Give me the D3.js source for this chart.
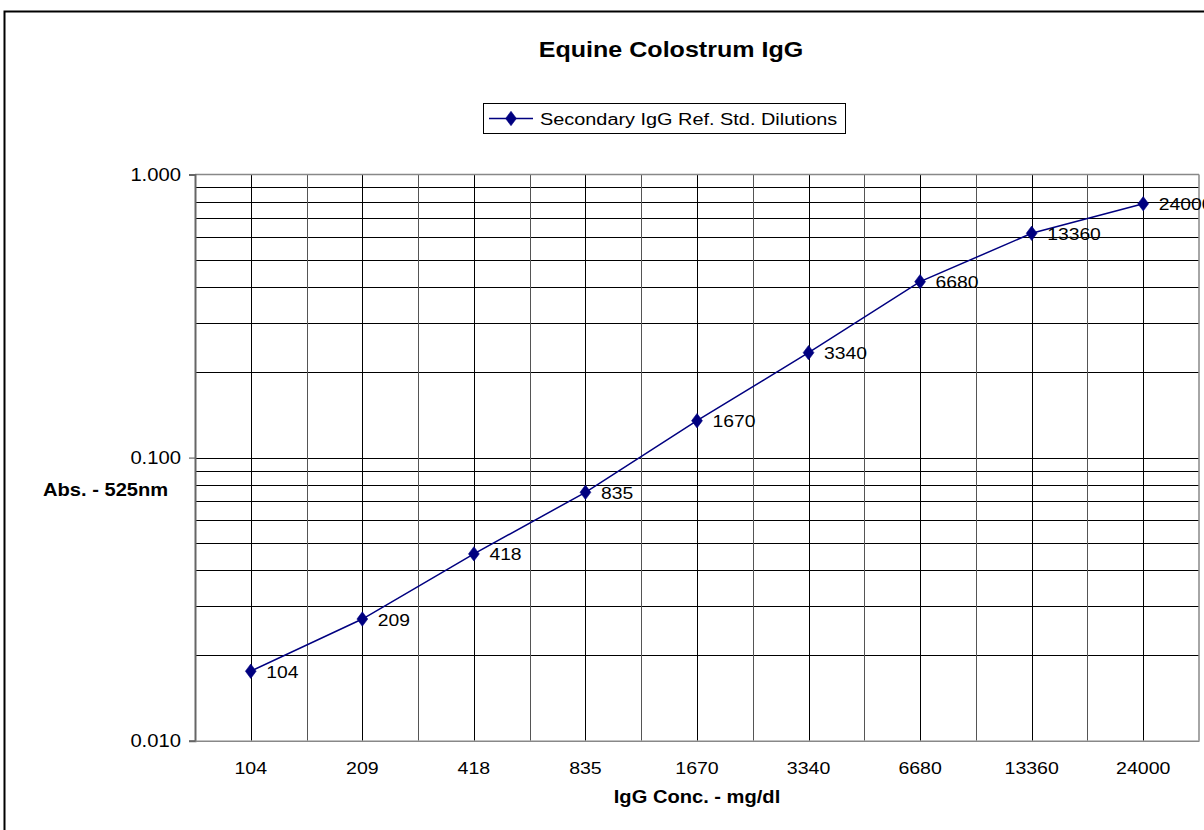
<!DOCTYPE html>
<html><head><meta charset="utf-8">
<script src="https://cdn.jsdelivr.net/npm/d3@7"></script>
<style>
html,body{margin:0;padding:0;background:#fff;}
text{font-family:"Liberation Sans",Arial,sans-serif;fill:#000;}
</style></head>
<body>
<svg id="chart" width="1204" height="830"></svg>
<script>
// ---- data ----
const categories = ["104","209","418","835","1670","3340","6680","13360","24000"];
const absorbance = [0.0176, 0.0269, 0.0457, 0.0754, 0.1350, 0.2348, 0.4182, 0.6199, 0.7883];
const pointLabels = ["104","209","418","835","1670","3340","6680","13360","24000"];
const yTickValues = [0.01, 0.1, 1];
const yTickLabels = ["0.010","0.100","1.000"];
const chartTitle = "Equine Colostrum IgG";
const seriesName = "Secondary IgG Ref. Std. Dilutions";
const xTitle = "IgG Conc. - mg/dl";
const yTitle = "Abs. - 525nm";

// ---- layout ----
const svg = d3.select("#chart");
const SX = 1.15;
const plot = {left:195, right:1199, top:174.5, bottom:740.7};
const navy = "#000080";

function stretchedText(g, x, y, str, size, weight, anchor){
  const t = g.append("g").attr("transform", `translate(${x},${y}) scale(${SX},1)`)
    .append("text").attr("x",0).attr("y",0)
    .attr("font-size", size).attr("font-weight", weight||"normal")
    .attr("text-anchor", anchor||"start").text(str);
  return t;
}

// outer chart border
svg.append("rect").attr("x",4.5).attr("y",11.5).attr("width",1400).attr("height",1000)
  .attr("fill","none").attr("stroke","#000").attr("stroke-width",2);

const x = d3.scaleBand().domain(categories).range([plot.left, plot.right]).paddingInner(0).paddingOuter(0);
const y = d3.scaleLog().domain([0.01, 1]).range([plot.bottom, plot.top]);

const g = svg.append("g");

// horizontal gridlines (minor log ticks)
const hTicks = [];
[0.01, 0.1].forEach(d => { for (let k=1;k<10;k++) hTicks.push(d*k); });
g.selectAll("line.hg").data(hTicks.filter(v => v>0.0100001 && v<0.99999)).enter().append("line")
  .attr("x1", plot.left).attr("x2", plot.right)
  .attr("y1", d => Math.round(y(d))+0.5).attr("y2", d => Math.round(y(d))+0.5)
  .attr("stroke","#000").attr("stroke-width",1);

// vertical gridlines at category centres and boundaries
const bounds = categories.slice(1).map(c => x(c));
g.selectAll("line.vb").data(bounds).enter().append("line")
  .attr("x1", d => Math.round(d)+0.5).attr("x2", d => Math.round(d)+0.5)
  .attr("y1", plot.top).attr("y2", plot.bottom)
  .attr("stroke","#555").attr("stroke-width",1);
g.selectAll("line.vc").data(categories).enter().append("line")
  .attr("x1", d => Math.round(x(d)+x.bandwidth()/2)+0.5).attr("x2", d => Math.round(x(d)+x.bandwidth()/2)+0.5)
  .attr("y1", plot.top).attr("y2", plot.bottom)
  .attr("stroke","#000").attr("stroke-width",1);

// plot border (top/right gray)
g.append("line").attr("x1",plot.left).attr("x2",plot.right).attr("y1",plot.top).attr("y2",plot.top)
  .attr("stroke","#888").attr("stroke-width",1.5);
g.append("line").attr("x1",plot.right).attr("x2",plot.right).attr("y1",plot.top).attr("y2",plot.bottom)
  .attr("stroke","#888").attr("stroke-width",1.5);

// y axis
const yAxis = d3.axisLeft(y).tickValues(yTickValues).tickSize(6).tickFormat(() => "");
const ya = svg.append("g").attr("transform",`translate(${plot.left},0)`).call(yAxis);
ya.select(".domain").attr("stroke","#666").attr("stroke-width",2);
ya.selectAll(".tick line").attr("stroke","#666").attr("stroke-width",1.2);
yTickValues.forEach((v,i) => {
  stretchedText(svg, 181, y(v)+6.5, yTickLabels[i], 17.6, "normal", "end");
});

// x axis
const xAxis = d3.axisBottom(x).tickSize(0).tickFormat(() => "");
const xa = svg.append("g").attr("transform",`translate(0,${plot.bottom})`).call(xAxis);
xa.select(".domain").attr("stroke","#888").attr("stroke-width",1.5);
categories.forEach(c => {
  stretchedText(svg, x(c)+x.bandwidth()/2, 773.5, c, 17, "normal", "middle");
});

// series line
const cx = (d,i) => x(categories[i]) + x.bandwidth()/2;
const line = d3.line().x((d,i) => cx(d,i)).y(d => y(d));
svg.append("path").datum(absorbance).attr("d", line)
  .attr("fill","none").attr("stroke",navy).attr("stroke-width",1.5);

// markers
const diamond = d3.symbol().type(d3.symbolDiamond).size(60);
svg.selectAll("path.mk").data(absorbance).enter().append("path")
  .attr("d", diamond)
  .attr("transform", (d,i) => `translate(${cx(d,i)},${y(d)}) scale(1.3,1)`)
  .attr("fill",navy).attr("stroke",navy).attr("stroke-width",0.5);

// data labels
absorbance.forEach((v,i) => {
  stretchedText(svg, cx(v,i)+15.5, y(v)+6.5, pointLabels[i], 16.8, "normal", "start");
});

// title
stretchedText(svg, 671, 56.5, chartTitle, 21.8, "bold", "middle");

// legend
svg.append("rect").attr("x",483.5).attr("y",103.5).attr("width",362).attr("height",30)
  .attr("fill","#fff").attr("stroke","#000").attr("stroke-width",1);
svg.append("line").attr("x1",489).attr("x2",533).attr("y1",118.5).attr("y2",118.5)
  .attr("stroke",navy).attr("stroke-width",1.5);
svg.append("path").attr("d",diamond).attr("transform","translate(511,118.5) scale(1.3,1)")
  .attr("fill",navy).attr("stroke",navy).attr("stroke-width",0.5);
stretchedText(svg, 540, 124.5, seriesName, 17.3, "normal", "start");

// axis titles
stretchedText(svg, 43, 496, yTitle, 17.5, "bold", "start");
stretchedText(svg, 697, 803, xTitle, 17.5, "bold", "middle");
</script>
</body></html>
